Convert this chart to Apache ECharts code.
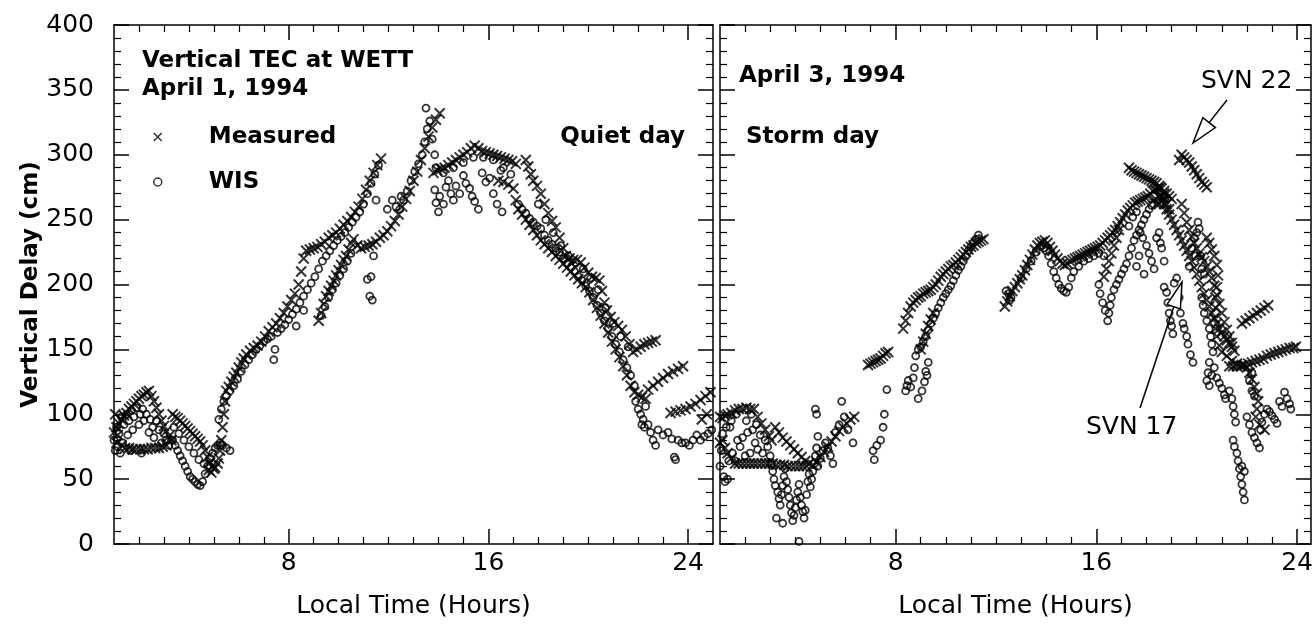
<!DOCTYPE html>
<html>
<head>
<meta charset="utf-8">
<title>Vertical TEC at WETT</title>
<script src="https://cdn.jsdelivr.net/npm/echarts@6.0.0/dist/echarts.min.js"></script>
<style>
  html, body { margin: 0; padding: 0; background: #fff; }
  #chart { width: 1316px; height: 624px; }
</style>
</head>
<body>
<div id="chart"></div>
<script>
// tick positions / labels
var xLabelValues = [8, 16, 24];
var xMinorValues = [2, 3, 4, 5, 6, 7, 9, 10, 11, 12, 13, 14, 15, 17, 18, 19, 20, 21, 22, 23];

// April 1, 1994 (quiet day) - measured, [hour, cm]
var quietMeasuredA = [[1.0,86],[1.05,100],[1.1,90],[1.15,84],[1.2,93],[1.3,96],[1.4,99],[1.5,101],[1.6,104],[1.7,106],[1.8,108],[1.9,110],[2.0,112],[2.1,114],[2.2,115],[2.3,117],[2.4,118],[2.5,114],[2.6,110],[2.7,105],[2.8,100],[2.9,95],[3.0,91],[3.1,87],[3.2,83],[3.3,80]];
var quietMeasuredFlat = [[1.1,78],[1.3,76],[1.45,74],[1.6,74],[1.75,73],[1.9,73],[2.05,73],[2.2,73],[2.35,73],[2.5,74],[2.65,74],[2.8,74],[2.95,75],[3.1,76]];
var quietMeasuredB = [[3.35,100],[3.45,98],[3.55,97],[3.65,95],[3.75,93],[3.85,91],[3.95,89],[4.05,87],[4.15,85],[4.25,83],[4.35,81],[4.45,79],[4.55,76],[4.65,72],[4.75,67],[4.8,57],[4.85,63],[4.9,55],[4.95,60],[5.0,58],[5.05,59],[5.15,62]];
var quietMeasuredC = [[5.2,66],[5.25,72],[5.3,80],[5.35,90],[5.4,100],[5.45,110],[5.5,118],[5.6,121],[5.7,125],[5.8,129],[5.9,132],[6.0,136],[6.1,140],[6.2,143],[6.3,146],[6.45,149],[6.6,151],[6.75,153],[6.9,156],[7.05,160],[7.2,164],[7.35,167],[7.5,170],[7.65,174],[7.8,178],[7.95,183],[8.1,188],[8.25,193],[8.4,200],[8.5,210],[8.6,220],[8.7,226],[8.85,227],[9.0,228],[9.15,229],[9.3,231],[9.45,233],[9.6,236],[9.75,238],[9.9,240],[10.05,243],[10.2,246],[10.35,249],[10.5,252],[10.65,256],[10.8,260],[10.95,266],[11.1,273],[11.25,280],[11.4,286],[11.55,292],[11.7,297]];
var quietMeasuredD = [[9.2,172],[9.3,178],[9.4,185],[9.5,191],[9.6,195],[9.7,199],[9.8,203],[9.9,207],[10.0,211],[10.1,215],[10.2,219],[10.3,222],[10.4,227],[10.5,232],[10.6,235],[10.75,230],[10.9,228],[11.05,229],[11.2,230],[11.35,231],[11.5,233],[11.65,236],[11.8,238],[11.95,241],[12.1,245],[12.25,249],[12.4,254],[12.55,260],[12.7,266],[12.85,272],[13.0,280],[13.15,287],[13.3,296],[13.45,305],[13.6,314],[13.75,321],[13.9,327],[14.05,332]];
var quietMeasuredHump = [[13.8,286],[13.95,288],[14.1,289],[14.25,290],[14.4,292],[14.55,294],[14.7,296],[14.85,298],[15.0,300],[15.15,302],[15.3,305],[15.45,307],[15.6,305],[15.75,303],[15.9,302],[16.05,301],[16.2,300],[16.35,299],[16.5,298],[16.65,297],[16.8,296],[16.95,295],[17.1,293]];
var quietMeasuredE = [[16.4,280],[16.6,279],[16.8,277],[17.0,274],[17.1,265],[17.2,258],[17.35,254],[17.5,250],[17.65,246],[17.8,242],[17.95,238],[18.1,234],[18.25,231],[18.4,228],[18.55,225],[18.7,222],[18.85,219],[19.0,216],[19.15,213],[19.3,210],[19.45,207],[19.6,204],[19.75,201],[19.9,198],[20.05,194],[20.2,188],[20.35,182],[20.5,176],[20.65,170],[20.8,163],[20.95,156],[21.1,150],[21.25,144],[21.4,137],[21.55,130],[21.7,122],[21.85,117],[22.0,115],[22.15,113],[22.3,112]];
var quietMeasuredF = [[17.5,296],[17.6,291],[17.7,285],[17.8,280],[17.95,276],[18.1,270],[18.25,262],[18.4,255],[18.55,249],[18.7,244],[18.85,236],[19.0,228],[19.1,222],[19.25,220],[19.4,219],[19.55,219],[19.7,217],[19.85,213],[20.0,209],[20.15,206],[20.3,205],[20.45,203],[20.55,195],[20.65,186],[20.75,180],[20.9,175],[21.05,171],[21.2,168],[21.35,165],[21.5,160],[21.65,154],[21.8,148],[21.95,150],[22.1,152],[22.25,154],[22.4,155],[22.55,156],[22.7,157]];
var quietMeasuredTail = [[22.4,119],[22.6,122],[22.8,125],[23.0,128],[23.2,131],[23.4,133],[23.6,135],[23.8,137],[23.3,101],[23.5,102],[23.7,103],[23.9,104],[24.1,106],[24.3,108],[24.5,111],[24.7,114],[24.9,117],[24.55,96],[24.75,100]];

// April 1, 1994 - WIS
var quietWisEarly = [[1.0,80],[1.05,72],[1.1,90],[1.15,75],[1.2,85],[1.25,70],[1.3,98],[1.35,78],[1.4,92],[1.5,100],[1.55,84],[1.6,95],[1.65,72],[1.7,103],[1.75,88],[1.8,98],[1.9,105],[2.0,92],[2.05,100],[2.1,70],[2.15,104],[2.2,95],[2.3,100],[2.4,86],[2.45,96],[2.55,90],[2.6,82],[2.7,95],[2.8,88],[2.9,78],[3.0,85],[3.1,80],[3.2,76],[3.3,80]];
var quietWisDip = [[3.35,80],[3.4,90],[3.45,76],[3.55,72],[3.6,85],[3.65,68],[3.75,64],[3.8,80],[3.85,60],[3.95,56],[4.0,75],[4.05,52],[4.15,50],[4.2,70],[4.25,48],[4.35,46],[4.4,65],[4.45,45],[4.55,48],[4.6,62],[4.65,54],[4.75,60],[4.85,66],[4.95,70],[5.05,74],[5.15,76],[5.25,78],[5.35,76],[5.5,74],[5.65,72]];
var quietWisRise = [[5.2,96],[5.3,104],[5.4,110],[5.5,114],[5.65,118],[5.8,122],[5.95,127],[6.1,133],[6.25,138],[6.4,142],[6.55,146],[6.7,150],[6.85,153],[7.0,156],[7.15,158],[7.3,160],[7.4,142],[7.45,150],[7.55,163],[7.7,166],[7.85,169],[8.0,173],[8.15,177],[8.3,181],[8.45,186],[8.6,191],[8.75,196],[8.9,201],[9.05,206],[9.2,212],[9.35,218],[9.5,222],[9.65,226],[9.8,230],[9.95,234],[10.1,237],[10.25,240],[10.4,244],[10.55,248],[10.7,252],[10.85,256],[11.0,262],[11.15,270],[11.3,278],[11.45,285],[11.6,292]];
var quietWisRise2 = [[8.3,168],[8.6,180],[9.3,176],[9.45,183],[9.6,190],[9.75,196],[9.9,201],[10.05,207],[10.2,212],[10.35,218],[10.5,224]];
var quietWisOutliers = [[11.15,204],[11.3,206],[11.25,191],[11.35,188],[11.4,222],[11.5,265],[11.95,258],[12.15,265],[12.3,260],[12.5,268]];
var quietWisPeak = [[12.45,258],[12.6,265],[12.75,272],[12.9,280],[13.05,287],[13.2,293],[13.35,300],[13.45,310],[13.55,320],[13.5,336],[13.65,326],[13.75,312],[13.85,300],[13.9,290],[13.85,273],[13.9,263],[14.0,256],[14.05,268],[14.2,262],[14.3,275],[14.4,280],[14.5,270],[14.6,265],[14.7,276],[14.85,270],[15.0,284],[15.1,278],[15.25,274],[15.35,268],[15.45,264],[15.6,258],[15.75,286],[15.9,279],[16.05,282],[16.2,270],[16.35,262],[16.55,256],[16.5,288],[14.2,286],[14.6,290],[15.0,294],[15.4,298],[15.8,298],[16.2,296],[16.6,290],[16.9,285]];
var quietWisFall = [[17.2,262],[17.35,258],[17.5,255],[17.65,251],[17.8,248],[17.95,245],[18.1,243],[18.25,238],[18.4,234],[18.55,231],[18.7,228],[18.85,225],[19.0,220],[19.15,216],[19.3,213],[19.45,210],[19.6,206],[19.75,203],[19.9,199],[20.05,195],[20.2,190],[20.35,184],[20.5,178],[20.65,172],[20.8,166],[20.95,160],[21.1,154],[21.25,148],[21.4,142],[21.55,136],[21.7,130],[21.85,122],[18.0,262],[18.3,250],[18.6,240],[18.9,230],[19.2,222],[19.5,217],[19.8,212],[20.1,205],[20.4,196],[20.7,182],[21.0,170],[21.3,160],[21.6,152]];
var quietWisTail = [[21.9,110],[22.0,104],[22.1,100],[22.15,92],[22.2,96],[22.25,90],[22.3,106],[22.4,92],[22.5,86],[22.6,80],[22.7,76],[22.8,88],[23.0,84],[23.2,86],[23.35,81],[23.45,67],[23.5,65],[23.6,80],[23.75,78],[23.9,78],[24.05,76],[24.2,80],[24.35,84],[24.5,80],[24.65,83],[24.8,85],[24.95,88]];

// April 3, 1994 (storm day) - measured
var stormMeasuredEarly = [[1.0,98],[1.1,97],[1.2,99],[1.3,100],[1.45,101],[1.6,103],[1.75,104],[1.9,104],[2.05,105],[2.2,104],[2.35,104],[2.5,98],[2.65,93],[2.8,88],[2.95,83],[3.05,80],[1.0,78],[1.1,80],[1.2,74],[1.3,70],[1.45,66]];
var stormMeasuredFlat = [[1.6,62],[1.75,62],[1.9,62],[2.05,62],[2.2,62],[2.35,62],[2.5,62],[2.65,62],[2.8,62],[2.95,62],[3.1,62],[3.25,61],[3.4,61],[3.55,61],[3.7,60],[3.85,60],[4.0,60],[4.15,60],[4.3,60],[4.45,60]];
var stormMeasuredDip = [[3.2,90],[3.35,86],[3.5,82],[3.65,79],[3.8,76],[3.95,73],[4.1,70],[4.25,67],[4.4,64],[4.55,62],[4.7,61],[4.85,63],[5.0,67],[5.15,71],[5.3,75],[5.45,79],[5.6,83],[5.75,87],[5.9,90],[6.05,93],[6.2,96],[6.35,98]];
var stormMeasuredMorning = [[6.9,138],[7.0,139],[7.1,140],[7.2,141],[7.3,142],[7.4,143],[7.5,145],[7.6,147],[7.7,148],[8.3,166],[8.4,172],[8.5,178],[8.6,183],[8.7,186],[8.8,188],[8.9,190],[9.0,191],[9.1,193],[9.2,194],[9.3,195],[9.4,196],[9.5,198],[9.6,200],[9.7,203],[9.8,206],[9.9,208],[10.0,210],[10.1,212],[10.2,214],[10.3,215],[10.4,217],[10.5,219],[10.6,221],[10.7,223],[10.8,225],[10.9,227],[11.0,229],[11.1,230],[11.2,232],[11.3,233],[11.4,234],[11.5,235],[9.0,150],[9.1,156],[9.2,162],[9.3,168],[9.4,173],[9.5,178]];
var stormMeasuredAfternoon = [[12.35,183],[12.45,187],[12.55,191],[12.65,195],[12.75,198],[12.85,201],[12.95,204],[13.05,207],[13.15,211],[13.25,215],[13.35,219],[13.45,223],[13.55,227],[13.65,230],[13.75,232],[13.85,233],[13.95,234],[14.05,232],[14.15,229],[14.25,226],[14.35,223],[14.45,220],[14.55,218],[14.65,216],[14.75,215],[14.85,216],[14.95,218],[15.05,219],[15.15,220],[15.25,221],[15.35,222],[15.45,223],[15.55,224],[15.65,225],[15.75,226],[15.85,227],[15.95,228],[16.05,229],[16.15,230],[16.25,232],[16.35,234],[16.45,236],[16.55,238],[16.65,240],[16.75,242],[16.85,245],[16.95,248],[17.05,251],[17.15,254],[17.25,257],[17.35,259],[17.45,261],[17.55,263],[17.65,264],[17.75,265],[17.85,266],[17.95,267],[18.05,268],[18.15,270],[18.25,272],[18.35,273],[18.45,274],[18.55,275]];
var stormMeasuredRise2 = [[16.3,206],[16.4,212],[16.5,218],[16.6,224],[16.7,230],[16.8,236],[16.9,242]];
var stormMeasuredSvn22 = [[17.3,290],[17.4,288],[17.5,287],[17.6,286],[17.7,285],[17.8,284],[17.9,283],[18.0,282],[18.1,281],[18.2,280],[18.3,279],[18.4,278],[18.5,276],[18.6,274],[18.7,272],[18.8,270],[18.9,268],[19.0,266],[19.3,296],[19.4,300],[19.5,298],[19.6,296],[19.7,294],[19.8,291],[19.9,288],[20.0,285],[20.1,282],[20.2,279],[20.3,277],[20.4,275]];
var stormMeasuredCluster = [[18.3,265],[18.4,262],[18.5,262],[18.6,264],[18.7,266],[18.8,262],[18.9,258],[18.7,270],[18.5,268]];
var stormMeasuredFall = [[18.6,268],[18.7,262],[18.8,258],[18.9,254],[19.0,250],[19.1,246],[19.2,242],[19.3,238],[19.4,234],[19.5,230],[19.6,226],[19.7,222],[19.8,218],[19.9,213],[20.0,208],[20.1,203],[20.2,198],[20.3,193],[20.4,188],[20.5,183],[20.6,178],[20.7,174],[20.8,170],[20.9,166],[21.0,163],[21.1,160],[21.2,157],[21.3,155],[21.4,152],[21.5,149],[19.4,262],[19.5,255],[19.6,248],[19.7,242],[19.8,237],[19.9,232],[20.0,228],[20.1,224],[20.2,221],[20.3,218],[20.4,214],[20.5,210],[20.6,205],[20.7,199],[20.8,192],[20.9,185],[21.0,178],[21.1,171],[21.2,165],[21.3,160],[21.4,155]];
var stormMeasuredLate = [[20.4,236],[20.5,232],[20.6,227],[20.7,222],[20.8,215],[20.85,207],[20.8,198],[20.75,190],[20.75,182],[20.7,174],[20.75,166],[20.8,160],[20.9,153],[21.0,148],[21.2,145],[21.4,141],[21.6,139],[21.8,138],[22.0,136],[22.1,132],[22.2,127],[22.3,121],[22.4,116],[22.45,110],[22.4,104],[22.35,98],[22.5,92],[22.7,88]];
var stormMeasuredEvening = [[21.3,137],[21.45,137],[21.6,137],[21.75,137],[21.9,138],[22.05,139],[22.2,140],[22.35,141],[22.5,142],[22.65,143],[22.8,145],[22.95,146],[23.1,147],[23.25,148],[23.4,149],[23.55,150],[23.7,151],[23.85,151],[23.95,152],[21.8,170],[21.95,172],[22.1,174],[22.25,176],[22.4,178],[22.55,180],[22.7,182],[22.85,184]];

// April 3, 1994 - WIS
var stormWisEarly = [[1.0,60],[1.05,72],[1.1,85],[1.15,52],[1.2,48],[1.25,90],[1.3,50],[1.35,64],[1.4,90],[1.45,95],[1.5,70],[1.6,64],[1.65,100],[1.7,80],[1.8,75],[1.9,82],[2.0,68],[2.05,95],[2.1,86],[2.2,70],[2.25,100],[2.3,88],[2.4,78],[2.45,92],[2.5,73],[2.6,84],[2.7,70],[2.8,80],[2.9,75],[3.0,68]];
var stormWisDip = [[3.05,62],[3.1,56],[3.15,50],[3.2,45],[3.25,20],[3.3,40],[3.35,35],[3.4,30],[3.45,38],[3.5,45],[3.5,16],[3.55,52],[3.6,58],[3.65,48],[3.7,42],[3.75,36],[3.8,30],[3.85,24],[3.9,18],[3.95,22],[4.0,28],[4.05,34],[4.1,40],[4.15,46],[4.15,2],[4.2,36],[4.25,30],[4.3,25],[4.35,20],[4.4,26],[4.45,38],[4.5,48],[4.55,54],[4.6,44],[4.65,50],[4.7,56],[4.75,62],[4.8,68],[4.85,74],[4.9,60],[5.0,66],[5.1,72],[5.2,78],[5.3,74],[5.4,68],[5.5,62],[4.8,104],[4.85,100],[4.9,83],[5.6,86],[5.75,92],[5.85,110],[5.95,98],[6.1,88],[6.3,78]];
var stormWisMorning = [[7.1,72],[7.15,65],[7.25,76],[7.4,80],[7.5,90],[7.55,100],[7.65,119],[8.4,118],[8.45,122],[8.5,126],[8.6,121],[8.7,128],[8.75,136],[8.8,145],[8.9,150],[9.0,152],[9.1,156],[9.2,160],[9.3,165],[9.4,170],[9.5,174],[9.6,178],[9.7,182],[9.8,186],[9.9,190],[10.0,193],[10.1,196],[10.2,199],[10.3,203],[10.4,207],[10.5,211],[10.6,214],[10.7,218],[10.8,222],[10.9,226],[11.0,229],[11.1,232],[11.2,235],[11.3,238],[8.9,112],[9.05,118],[9.15,125],[9.2,133],[9.25,130],[9.3,140]];
var stormWisAfternoon = [[12.4,195],[12.5,193],[12.55,188],[12.6,190],[13.0,205],[13.2,212],[13.4,218],[13.6,225],[13.8,230],[13.9,228],[14.0,226],[14.1,222],[14.2,216],[14.3,210],[14.4,205],[14.5,200],[14.6,197],[14.7,195],[14.8,194],[14.9,198],[15.0,205],[15.1,210],[15.3,214],[15.5,218],[15.7,220],[15.9,222],[16.1,224],[16.3,222]];
var stormWisPeak = [[16.1,200],[16.15,193],[16.25,186],[16.35,180],[16.45,172],[16.5,178],[16.55,184],[16.6,190],[16.7,196],[16.8,200],[16.9,204],[17.0,208],[17.1,212],[17.2,216],[17.3,222],[17.4,228],[17.5,234],[17.6,238],[17.7,242],[17.8,246],[17.9,250],[18.0,254],[18.1,258],[18.2,261],[17.3,245],[17.45,252],[17.6,256],[17.75,240],[17.85,236],[18.0,230],[18.1,224],[18.2,218],[18.3,212],[18.4,236],[18.5,240],[18.55,232],[18.6,228],[18.7,218],[17.9,208],[17.7,222],[17.6,214]];
var stormWisFall = [[18.7,198],[18.8,194],[18.85,186],[18.9,178],[18.95,172],[19.0,168],[19.05,162],[19.1,201],[19.2,205],[19.3,190],[19.35,178],[19.45,170],[19.5,166],[19.6,160],[19.65,154],[19.75,146],[19.85,140],[19.9,236],[20.0,240],[20.05,248],[20.1,243],[20.15,222],[19.95,222],[19.8,228],[19.7,214],[20.2,212],[20.3,208]];
var stormWisLate = [[20.2,190],[20.25,184],[20.3,178],[20.4,172],[20.5,166],[20.55,160],[20.6,154],[20.65,148],[20.5,140],[20.45,132],[20.4,126],[20.5,122],[20.6,130],[20.7,136],[20.8,128],[20.9,124],[21.0,120],[21.1,115],[21.15,112],[21.3,118],[21.4,112],[21.45,106],[21.5,100],[21.55,94],[21.45,80],[21.5,75],[21.6,70],[21.65,64],[21.7,58],[21.75,52],[21.8,46],[21.85,40],[21.9,34],[21.8,60],[21.9,56],[22.0,98],[22.1,92],[22.2,86],[22.3,82],[22.4,78],[22.5,74],[22.55,88],[22.6,94],[22.7,100],[22.8,104],[22.9,102],[23.0,99],[23.1,96],[23.2,93],[23.3,110],[23.4,106],[23.5,117],[23.6,112],[23.7,108],[23.75,104],[22.2,118],[22.3,114],[22.1,126],[22.2,132]];

var quietMeasured = [].concat(quietMeasuredA, quietMeasuredFlat, quietMeasuredB, quietMeasuredC, quietMeasuredD, quietMeasuredHump, quietMeasuredE, quietMeasuredF, quietMeasuredTail);
var quietWis = [].concat(quietWisEarly, quietWisDip, quietWisRise, quietWisRise2, quietWisOutliers, quietWisPeak, quietWisFall, quietWisTail);
var stormMeasured = [].concat(stormMeasuredEarly, stormMeasuredFlat, stormMeasuredDip, stormMeasuredMorning, stormMeasuredAfternoon, stormMeasuredRise2, stormMeasuredSvn22, stormMeasuredCluster, stormMeasuredFall, stormMeasuredLate, stormMeasuredEvening);
var stormWis = [].concat(stormWisEarly, stormWisDip, stormWisMorning, stormWisAfternoon, stormWisPeak, stormWisFall, stormWisLate);

var FONT = 'DejaVu Sans';
var CROSS = 'path://M0,0L10,10M10,0L0,10';
var BLACK = '#000';

// small deep merge, no jQuery on this page
function merge(target) {
    for (var i = 1; i < arguments.length; i++) {
        var src = arguments[i];
        for (var k in src) {
            var v = src[k];
            if (v && typeof v === 'object' && !Array.isArray(v)) {
                target[k] = merge(target[k] && typeof target[k] === 'object' ? target[k] : {}, v);
            } else {
                target[k] = v;
            }
        }
    }
    return target;
}

function xAxes(gridIndex, max, showLabels) {
    var base = {
        gridIndex: gridIndex, type: 'value', min: 1, max: max,
        splitLine: { show: false },
        axisLine: { show: true, onZero: false, lineStyle: { color: BLACK, width: 1.5 } }
    };
    return [
        merge({}, base, {
            position: 'bottom',
            axisTick: { inside: true, length: 7, customValues: xMinorValues, lineStyle: { color: BLACK, width: 1.2 } },
            axisLabel: { show: showLabels, customValues: xLabelValues, color: BLACK, fontFamily: FONT, fontSize: 25, margin: 7 },
            name: 'Local Time (Hours)', nameLocation: 'middle', nameGap: 50,
            nameTextStyle: { color: BLACK, fontFamily: FONT, fontSize: 25 }
        }),
        merge({}, base, {
            position: 'bottom', axisLine: { show: false },
            axisTick: { inside: true, length: 15, customValues: xLabelValues, lineStyle: { color: BLACK, width: 1.5 } },
            axisLabel: { show: false }
        }),
        merge({}, base, {
            position: 'top',
            axisTick: { inside: true, length: 7, customValues: xMinorValues, lineStyle: { color: BLACK, width: 1.2 } },
            axisLabel: { show: false }
        }),
        merge({}, base, {
            position: 'top', axisLine: { show: false },
            axisTick: { inside: true, length: 15, customValues: xLabelValues, lineStyle: { color: BLACK, width: 1.5 } },
            axisLabel: { show: false }
        })
    ];
}

function yAxes(gridIndex, withLabels) {
    var base = {
        gridIndex: gridIndex, type: 'value', min: 0, max: 400, interval: 50,
        splitLine: { show: false },
        axisLine: { show: true, onZero: false, lineStyle: { color: BLACK, width: 1.5 } },
        axisTick: { inside: true, length: 15, lineStyle: { color: BLACK, width: 1.5 } },
        minorTick: { show: true, splitNumber: 5, length: 7, lineStyle: { color: BLACK, width: 1.2 } },
        axisLabel: { show: false }
    };
    var left = merge({}, base, { position: 'left' });
    if (withLabels) {
        left.axisLabel = { show: true, color: BLACK, fontFamily: FONT, fontSize: 25, margin: 20 };
        left.name = 'Vertical Delay (cm)';
        left.nameLocation = 'middle';
        left.nameGap = 70;
        left.nameTextStyle = { color: BLACK, fontFamily: FONT, fontSize: 23, fontWeight: 'bold' };
    }
    return [left, merge({}, base, { position: 'right' })];
}

function scatter(name, data, xIndex, yIndex, isCross) {
    return {
        type: 'scatter', name: name, data: data,
        xAxisIndex: xIndex, yAxisIndex: yIndex,
        symbol: isCross ? CROSS : 'circle',
        symbolSize: isCross ? 10 : 7,
        silent: true,
        itemStyle: { color: 'transparent', borderColor: BLACK, borderWidth: isCross ? 2 : 1.8 }
    };
}

function arrow(tail, tip, len, half) {
    var dx = tip[0] - tail[0], dy = tip[1] - tail[1];
    var d = Math.sqrt(dx * dx + dy * dy), ux = dx / d, uy = dy / d;
    var bx = tip[0] - ux * len, by = tip[1] - uy * len;
    return [
        { type: 'line', z: 100, shape: { x1: tail[0], y1: tail[1], x2: bx, y2: by }, style: { stroke: BLACK, lineWidth: 1.5 } },
        { type: 'polygon', z: 100, shape: { points: [tip, [bx - uy * half, by + ux * half], [bx + uy * half, by - ux * half]] },
          style: { fill: '#fff', stroke: BLACK, lineWidth: 1.5 } }
    ];
}

function label(text, pos, bold, size) {
    return merge({
        text: text, padding: 0,
        textStyle: { color: BLACK, fontFamily: FONT, fontSize: size || 23, fontWeight: bold ? 'bold' : 'normal', lineHeight: 28 }
    }, pos);
}

var option = {
    animation: false,
    backgroundColor: '#fff',
    grid: [
        { left: 114, top: 25, width: 599, height: 520 },
        { left: 720, top: 25, width: 591, height: 520 }
    ],
    title: [
        label('Vertical TEC at WETT\nApril 1, 1994', { left: 142, top: 47 }, true),
        label('Quiet day', { right: 631, top: 123 }, true),
        label('April 3, 1994', { left: 739, top: 62 }, true),
        label('Storm day', { left: 746, top: 123 }, true),
        label('SVN 22', { left: 1201, top: 67 }, false, 25),
        label('SVN 17', { left: 1086, top: 413 }, false, 25)
    ],
    legend: {
        data: [{ name: 'Measured', icon: CROSS, itemStyle: { borderWidth: 1.5 } }, { name: 'WIS', icon: 'circle', itemStyle: { borderWidth: 1.5 } }],
        orient: 'vertical', left: 148, top: 120,
        itemWidth: 8, itemHeight: 8, itemGap: 21,
        selectedMode: false,
        textStyle: { color: BLACK, fontFamily: FONT, fontSize: 23, fontWeight: 'bold', lineHeight: 24, padding: [0, 0, 0, 42] }
    },
    xAxis: xAxes(0, 25, true).concat(xAxes(1, 24.55, true)),
    yAxis: yAxes(0, true).concat(yAxes(1, false)),
    series: [
        scatter('Measured', quietMeasured, 0, 0, true),
        scatter('WIS', quietWis, 0, 0, false),
        scatter('Measured', stormMeasured, 4, 2, true),
        scatter('WIS', stormWis, 4, 2, false)
    ],
    graphic: arrow([1227, 100], [1193, 143], 26, 8).concat(arrow([1140, 408], [1182, 282], 26, 7))
};

var chart = echarts.init(document.getElementById('chart'));
chart.setOption(option);
</script>
</body>
</html>
